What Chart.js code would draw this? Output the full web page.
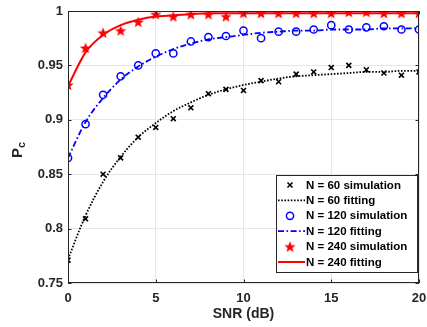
<!DOCTYPE html>
<html>
<head>
    <script src="https://cdn.jsdelivr.net/npm/chart.js"></script>
    <style>
        html, body { margin: 0; padding: 0; background: white; }
        #wrap { width: 427px; height: 327px; position: relative; }
    </style>
</head>
<body>
<div id="wrap"><canvas id="pcChart"></canvas></div>
<script>
    // SNR values (dB)
    const snr = [0, 1, 2, 3, 4, 5, 6, 7, 8, 9, 10, 11, 12, 13, 14, 15, 16, 17, 18, 19, 20];

    // N = 60
    const sim60 = [0.771, 0.809, 0.850, 0.865, 0.884, 0.893, 0.901, 0.911, 0.924, 0.928, 0.927,
                   0.936, 0.935, 0.942, 0.944, 0.948, 0.950, 0.946, 0.943, 0.941, 0.944];
    const fit60 = [0.772, 0.812, 0.843, 0.866, 0.884, 0.897, 0.908, 0.916, 0.923, 0.928, 0.932,
                   0.935, 0.938, 0.940, 0.941, 0.942, 0.943, 0.944, 0.944, 0.945, 0.945];

    // N = 120
    const sim120 = [0.865, 0.896, 0.923, 0.940, 0.950, 0.961, 0.961, 0.972, 0.976, 0.977, 0.982,
                    0.975, 0.981, 0.981, 0.983, 0.987, 0.983, 0.985, 0.986, 0.983, 0.983];
    const fit120 = [0.865, 0.898, 0.920, 0.937, 0.949, 0.958, 0.965, 0.970, 0.974, 0.976, 0.978,
                    0.980, 0.981, 0.982, 0.982, 0.983, 0.983, 0.983, 0.984, 0.984, 0.984];

    // N = 240
    const sim240 = [0.932, 0.966, 0.980, 0.982, 0.990, 0.997, 0.995, 0.997, 0.997, 0.995, 0.998,
                    0.998, 0.998, 0.998, 0.998, 0.998, 0.999, 0.999, 0.998, 0.998, 0.998];
    const fit240 = [0.931, 0.962, 0.978, 0.987, 0.992, 0.995, 0.996, 0.997, 0.998, 0.998, 0.998,
                    0.998, 0.998, 0.998, 0.998, 0.998, 0.998, 0.998, 0.998, 0.998, 0.998];

    const yTicks = [0.75, 0.8, 0.85, 0.9, 0.95, 1];
    const xTicks = [0, 5, 10, 15, 20];

    const legendLabels = ["N = 60 simulation", "N = 60 fitting", "N = 120 simulation",
                          "N = 120 fitting", "N = 240 simulation", "N = 240 fitting"];

    const axisColor = "#262626";
    const font = "Arial, 'Liberation Sans', sans-serif";

    function pts(ys) {
        return snr.map((x, i) => ({ x: x, y: ys[i] }));
    }

    // filled pentagram marker
    function makeStar(size, color) {
        const c = document.createElement("canvas");
        c.width = size; c.height = size;
        const g = c.getContext("2d");
        const cx = size / 2, cy = size / 2 + 0.5, R = size / 2, r = R * 0.42;
        g.beginPath();
        for (let i = 0; i < 10; i++) {
            const rad = i % 2 === 0 ? R : r;
            const a = -Math.PI / 2 + i * Math.PI / 5;
            const px = cx + rad * Math.cos(a), py = cy + rad * Math.sin(a);
            if (i === 0) g.moveTo(px, py); else g.lineTo(px, py);
        }
        g.closePath();
        g.fillStyle = color;
        g.fill();
        return c;
    }
    const starImg = makeStar(12, "#ff0000");

    const datasets = [
        { label: legendLabels[0], data: pts(sim60), showLine: false, pointStyle: "crossRot",
          pointRadius: 3.5, pointBorderWidth: 1.6, borderColor: "#000", backgroundColor: "#000", order: 1 },
        { label: legendLabels[1], data: pts(fit60), showLine: true, pointRadius: 0, borderColor: "#000",
          borderWidth: 1.8, borderDash: [1.6, 1.6], cubicInterpolationMode: "monotone", order: 2 },
        { label: legendLabels[2], data: pts(sim120), showLine: false, pointStyle: "circle",
          pointRadius: 3.6, pointBorderWidth: 1.5, borderColor: "#0000ff", backgroundColor: "rgba(0,0,0,0)", order: 1 },
        { label: legendLabels[3], data: pts(fit120), showLine: true, pointRadius: 0, borderColor: "#0000ff",
          borderWidth: 1.8, borderDash: [6, 2.5, 1.6, 2.5], cubicInterpolationMode: "monotone", order: 2 },
        { label: legendLabels[4], data: pts(sim240), showLine: false, pointStyle: starImg,
          pointRadius: 6, borderColor: "#ff0000", backgroundColor: "#ff0000", order: 1 },
        { label: legendLabels[5], data: pts(fit240), showLine: true, pointRadius: 0, borderColor: "#ff0000",
          borderWidth: 2, cubicInterpolationMode: "monotone", order: 2 }
    ];

    // box, y title and legend drawn on top
    const decorations = {
        id: "decorations",
        afterDatasetsDraw(chart) {
            const ctx = chart.ctx;
            const a = chart.chartArea;
            ctx.save();
            ctx.strokeStyle = axisColor;
            ctx.lineWidth = 1;
            ctx.strokeRect(a.left + 0.5, a.top + 0.5, a.right - a.left - 1, a.bottom - a.top - 1);

            // inward tick marks on all sides
            const xs = chart.scales.x, ys = chart.scales.y;
            ctx.beginPath();
            xTicks.forEach(v => {
                const px = Math.round(xs.getPixelForValue(v)) + 0.5;
                ctx.moveTo(px, a.top); ctx.lineTo(px, a.top + 3.5);
                ctx.moveTo(px, a.bottom); ctx.lineTo(px, a.bottom - 3.5);
            });
            yTicks.forEach(v => {
                const py = Math.round(ys.getPixelForValue(v)) + 0.5;
                ctx.moveTo(a.right, py); ctx.lineTo(a.right - 3.5, py);
                ctx.moveTo(a.left, py); ctx.lineTo(a.left + 3.5, py);
            });
            ctx.stroke();

            // y axis title P_c
            ctx.save();
            ctx.translate(22, 152);
            ctx.rotate(-Math.PI / 2);
            ctx.fillStyle = axisColor;
            ctx.textBaseline = "alphabetic";
            ctx.font = "bold 15px " + font;
            ctx.textAlign = "left";
            const pw = ctx.measureText("P").width;
            ctx.fillText("P", -6, 0);
            ctx.font = "bold 11px " + font;
            ctx.fillText("c", -6 + pw, 3);
            ctx.restore();

            // legend
            const lx = 276, ly = 175, lw = 141, lh = 97;
            ctx.fillStyle = "#fff";
            ctx.fillRect(lx, ly, lw, lh);
            ctx.strokeStyle = axisColor;
            ctx.lineWidth = 1;
            ctx.strokeRect(lx + 0.5, ly + 0.5, lw, lh);
            const rowH = 15.4, firstY = 185;
            ctx.font = "bold 11.5px " + font;
            ctx.textBaseline = "middle";
            ctx.textAlign = "left";
            chart.data.datasets.forEach((ds, i) => {
                const y = firstY + i * rowH;
                const mx = 290;
                if (ds.showLine) {
                    ctx.beginPath();
                    ctx.strokeStyle = ds.borderColor;
                    ctx.lineWidth = ds.borderWidth;
                    ctx.setLineDash(ds.borderDash || []);
                    ctx.moveTo(278, y); ctx.lineTo(305, y);
                    ctx.stroke();
                    ctx.setLineDash([]);
                } else if (ds.pointStyle === "crossRot") {
                    ctx.beginPath();
                    ctx.strokeStyle = "#000";
                    ctx.lineWidth = 1.6;
                    ctx.moveTo(mx - 2.5, y - 2.5); ctx.lineTo(mx + 2.5, y + 2.5);
                    ctx.moveTo(mx + 2.5, y - 2.5); ctx.lineTo(mx - 2.5, y + 2.5);
                    ctx.stroke();
                } else if (ds.pointStyle === "circle") {
                    ctx.beginPath();
                    ctx.strokeStyle = ds.borderColor;
                    ctx.lineWidth = 1.5;
                    ctx.arc(mx, y, 3.6, 0, Math.PI * 2);
                    ctx.stroke();
                } else {
                    ctx.drawImage(starImg, mx - 6, y - 6);
                }
                ctx.fillStyle = "#000";
                ctx.fillText(ds.label, 306, y + 0.5);
            });
            ctx.restore();
        }
    };

    new Chart(document.getElementById("pcChart"), {
        type: "scatter",
        data: { datasets: datasets },
        options: {
            responsive: true,
            maintainAspectRatio: false,
            animation: false,
            layout: { padding: { top: 11, right: 8, left: 0, bottom: 0 } },
            plugins: { legend: { display: false }, tooltip: { enabled: false } },
            scales: {
                x: {
                    type: "linear", min: 0, max: 20,
                    afterBuildTicks: s => { s.ticks = xTicks.map(v => ({ value: v })); },
                    afterFit: s => { s.height = 44; s.paddingRight = 0; s.paddingLeft = 0; },
                    grid: { color: "#e6e6e6", drawTicks: false },
                    border: { display: false },
                    ticks: { color: axisColor, padding: 8, font: { family: font, size: 13, weight: "bold" } },
                    title: { display: true, text: "SNR (dB)", color: axisColor, padding: { top: 2 },
                             font: { family: font, size: 14, weight: "bold" } }
                },
                y: {
                    min: 0.75, max: 1,
                    afterBuildTicks: s => { s.ticks = yTicks.map(v => ({ value: v })); },
                    afterFit: s => { s.width = 68; s.paddingTop = 0; s.paddingBottom = 0; },
                    grid: { color: "#e6e6e6", drawTicks: false },
                    border: { display: false },
                    ticks: { color: axisColor, padding: 5, font: { family: font, size: 13, weight: "bold" },
                             callback: v => String(+v.toFixed(2)) }
                }
            }
        },
        plugins: [decorations]
    });
</script>
</body>
</html>
